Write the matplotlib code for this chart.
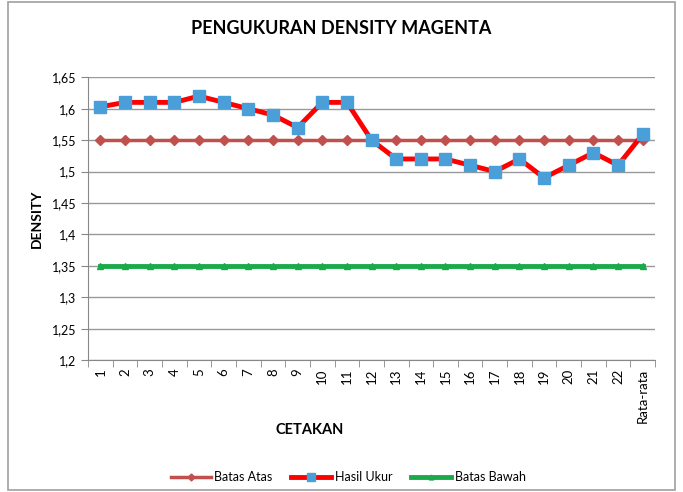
import matplotlib
matplotlib.use("Agg")
import matplotlib.pyplot as plt
import numpy as np
from matplotlib.patches import Rectangle

labels = [str(i) for i in range(1, 23)] + ["Rata-rata"]
batas_atas = [1.55] * 23
hasil_ukur = [1.603, 1.61, 1.61, 1.61, 1.62, 1.61, 1.60, 1.59, 1.57, 1.61, 1.61, 1.55,
              1.52, 1.52, 1.52, 1.51, 1.50, 1.52, 1.49, 1.51, 1.53, 1.51, 1.559]
batas_bawah = [1.35] * 23

plt.rcParams['font.family'] = ['Lato', 'DejaVu Sans']

fig = plt.figure(figsize=(6.83, 4.92), dpi=100)
fig.patches.append(Rectangle((0.012, 0.004), 0.976, 0.992, transform=fig.transFigure,
                             fill=False, edgecolor="#a0a0a0", linewidth=1.2))
ax = fig.add_axes([0.129, 0.268, 0.830, 0.575])

x = np.arange(len(labels))
ax.plot(x, batas_atas, color="#c0504d", lw=2.5, marker="D", ms=5, label="Batas Atas", zorder=3)
ax.plot(x, hasil_ukur, color="#ff0000", lw=3.5, marker="s", ms=8,
        markerfacecolor="#4a9fd8", markeredgecolor="#4a9fd8", label="Hasil Ukur", zorder=4)
ax.plot(x, batas_bawah, color="#1aaa4a", lw=3.5, marker="^", ms=5, label="Batas Bawah", zorder=3)

ax.set_xlim(-0.5, len(labels) - 0.5)
ax.set_ylim(1.2, 1.65)
yt = np.arange(1.2, 1.651, 0.05)
ax.set_yticks(yt)
ax.set_yticklabels([("%g" % round(v, 2)).replace(".", ",") for v in yt], fontsize=9)
ax.set_xticks(x)
ax.set_xticklabels(labels, rotation=90, fontsize=9.5)
ax.tick_params(axis="x", length=0, pad=6)
ax.set_xticks(np.arange(-0.5, len(labels), 1), minor=True)
ax.tick_params(axis="x", which="minor", length=5, color="#888888")
ax.tick_params(axis="y", length=5, color="#888888")
ax.grid(axis="y", color="#999999", lw=1)
ax.set_axisbelow(True)
for s in ["top", "right"]:
    ax.spines[s].set_visible(False)
ax.spines["left"].set_color("#888888")
ax.spines["bottom"].set_color("#888888")

ax.set_ylabel("DENSITY", fontsize=10, fontweight="bold", labelpad=6)
fig.text(0.454, 0.126, "CETAKAN", ha="center", va="center", fontsize=10.5, fontweight="bold")
fig.text(0.5, 0.942, "PENGUKURAN DENSITY MAGENTA", ha="center", va="center",
         fontsize=13, fontweight="bold")
fig.legend(loc="center", bbox_to_anchor=(0.51, 0.03), ncol=3, frameon=False,
           fontsize=9, handlelength=3.2, columnspacing=1.5, markerscale=0.7,
           handletextpad=0.3)

fig.savefig("out.png", dpi=100)
